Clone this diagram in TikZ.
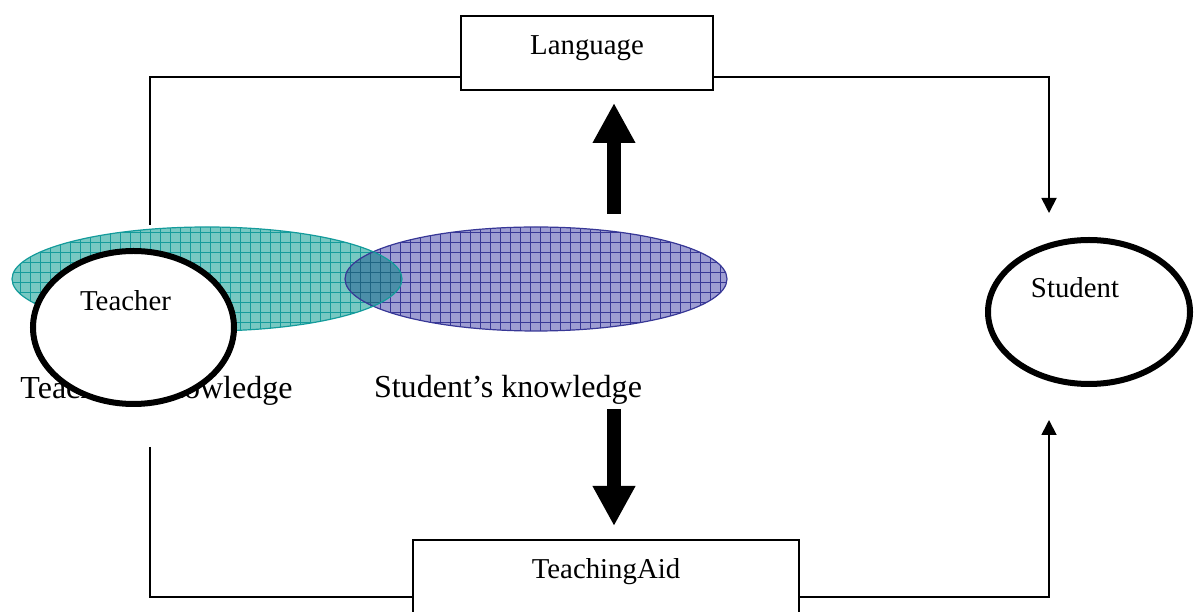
\documentclass[tikz,border=0pt]{standalone}
\usepackage{fontspec}
\setmainfont{Liberation Serif}
\usetikzlibrary{arrows.meta}
\tikzset{>={Triangle[width=3.75mm,length=3.75mm]}}
\definecolor{tealfill}{RGB}{120,200,194}
\definecolor{tealline}{RGB}{20,155,155}
\definecolor{violfill}{RGB}{158,158,210}
\definecolor{violline}{RGB}{55,55,150}
\definecolor{mixfill}{RGB}{75,142,168}
\definecolor{mixline}{RGB}{30,100,130}
\tikzset{
  labelbox/.style={draw, line width=0.45mm, fill=white, anchor=north,
    inner xsep=0pt, inner ysep=0pt, font=\fontsize{20.5}{24}\selectfont},
  lbl/.style={anchor=base, inner sep=0pt, font=\fontsize{20.5}{24}\selectfont},
  knowlbl/.style={anchor=base, inner sep=0pt, font=\fontsize{22.8}{27}\selectfont},
  link/.style={line width=0.45mm},
  bigarrow/.style={line width=3.3mm, -{Triangle[width=10mm,length=10mm]}},
  ring/.style={line width=1.5mm, fill=white},
  gridline/.style={line width=0.22mm, step=10}
}

\begin{document}
\begin{tikzpicture}[x=0.25mm,y=0.25mm]
    \useasboundingbox (0,0) rectangle (1196,612);
    % knowledge ellipses
    \begin{scope}
      \clip (207,333) ellipse [x radius=195, y radius=52];
      \fill[tealfill] (0,270) rectangle (420,400);
      \draw[gridline,tealline] (0,270) grid (420,400);
    \end{scope}
    \begin{scope}
      \clip (536,333) ellipse [x radius=191, y radius=52];
      \fill[violfill] (340,270) rectangle (740,400);
      \draw[gridline,violline] (340,270) grid (740,400);
      \clip (207,333) ellipse [x radius=195, y radius=52];
      \fill[mixfill] (340,270) rectangle (420,400);
      \draw[gridline,mixline] (340,270) grid (420,400);
    \end{scope}
    \draw[violline, line width=0.3mm] (536,333) ellipse [x radius=191, y radius=52];
    \draw[tealline, line width=0.3mm] (207,333) ellipse [x radius=195, y radius=52];
    \node[knowlbl] (tknow) at (156.5,213) {Teacher’s knowledge};
    \node[knowlbl] (sknow) at (508,214) {Student’s knowledge};
    % people
    \draw[ring] (133.5,284.5) ellipse [x radius=100.5, y radius=76.5];
    \node[lbl] (teacher) at (125.5,301) {Teacher};
    \draw[ring] (1089,300) ellipse [x radius=101, y radius=72];
    \node[lbl] (student) at (1075,314) {Student};
    % boxes
    \node[labelbox, minimum width=63mm, text height=9.75mm, text depth=8.75mm] (lang) at (587,597) {Language};
    \node[labelbox, minimum width=96.5mm, text height=9.75mm, text depth=12.5mm] (aid) at (606,73) {TeachingAid};
    % connectors
    \coordinate (tcorner) at (150,387);
    \coordinate (tfoot) at (150,165);
    \coordinate (stin) at (1049,399);
    \coordinate (stout) at (1049,192);
    \draw[link] (tcorner) |- ([yshift=3.5mm]lang.south west);
    \draw[link,->] ([yshift=3.5mm]lang.south east) -| (stin);
    \draw[link] (tfoot) |- ([yshift=-14.5mm]aid.north west);
    \draw[link,->] ([yshift=-14.5mm]aid.north east) -| (stout);
    \coordinate (upfoot) at (614,398);
    \coordinate (uptip) at (614,509);
    \coordinate (dnfoot) at (614,203);
    \coordinate (dntip) at (614,86);
    \draw[bigarrow] (upfoot) -- (uptip);
    \draw[bigarrow] (dnfoot) -- (dntip);
\end{tikzpicture}
\end{document}
